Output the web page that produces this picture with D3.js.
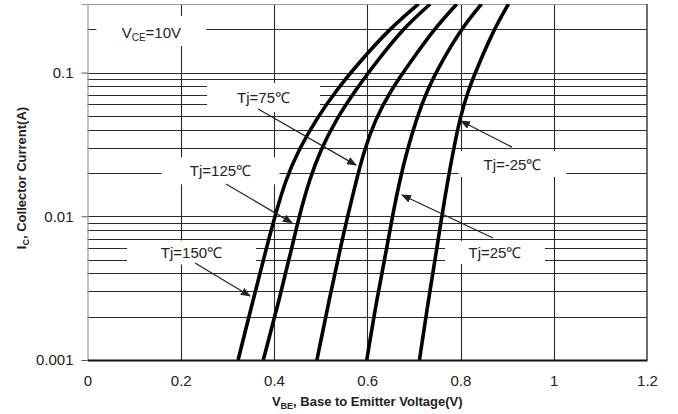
<!DOCTYPE html>
<html>
<head>
<meta charset="utf-8">
<script src="https://cdn.jsdelivr.net/npm/d3@7"></script>
<style>
  body { margin: 0; background: #fff; }
  text { font-family: "Liberation Sans", Arial, sans-serif; }
</style>
</head>
<body>
<div id="chart"></div>
<script>
// Ic vs Vbe at several junction temperatures (log current axis)

// collector current levels (A) where the curves were read
const currents = [0.3, 0.2, 0.12, 0.075, 0.047, 0.029, 0.018, 0.01, 0.0068, 0.0026, 0.001];
// base-emitter voltage (V) for each temperature at those currents
const vbe150 = [0.710, 0.647, 0.585, 0.533, 0.490, 0.453, 0.425, 0.402, 0.388, 0.355, 0.323];
const vbe125 = [0.735, 0.675, 0.621, 0.574, 0.533, 0.500, 0.476, 0.454, 0.442, 0.411, 0.377];
const vbe75  = [0.792, 0.743, 0.694, 0.650, 0.617, 0.594, 0.577, 0.558, 0.546, 0.518, 0.492];
const vbe25  = [0.845, 0.801, 0.760, 0.728, 0.705, 0.686, 0.670, 0.654, 0.645, 0.620, 0.599];
const vbeM25 = [0.903, 0.872, 0.842, 0.816, 0.798, 0.785, 0.773, 0.760, 0.752, 0.731, 0.712];

const xTicks = [0, 0.2, 0.4, 0.6, 0.8, 1, 1.2];
const yTicks = [0.001, 0.01, 0.1];
const tempLabels = ['Tj=150℃', 'Tj=125℃', 'Tj=75℃', 'Tj=25℃', 'Tj=-25℃'];

const series = [vbe150, vbe125, vbe75, vbe25, vbeM25].map((v, k) => ({
    name: tempLabels[k],
    pts: v.map((d, i) => ({ v: d, i: currents[i] }))
}));

// label placement in data units: text centre, arrow tail -> head
const notes = [
    { text: 'Tj=75℃',  at: [0.3775, 0.0671], w: 113, h: 29, from: [0.366, 0.0558], to: [0.576, 0.0227] },
    { text: 'Tj=125℃', at: [0.2853, 0.0207], w: 118, h: 27, from: [0.297, 0.0168], to: [0.4386, 0.0090] },
    { text: 'Tj=150℃', at: [0.2231, 0.0056], w: 129, h: 24, from: [0.2306, 0.00473], to: [0.3485, 0.00279] },
    { text: 'Tj=-25℃', at: [0.9115, 0.0231], w: 108, h: 26, from: [0.9105, 0.0303], to: [0.801, 0.046] },
    { text: 'Tj=25℃',  at: [0.874, 0.0056],  w: 100, h: 23, from: [0.8697, 0.00706], to: [0.6745, 0.01406] }
];

const W = 678, H = 414;
const plot = { left: 87.5, right: 647, top: 4, bottom: 360 };

const svg = d3.select('#chart').append('svg')
    .attr('width', W)
    .attr('height', H);

const x = d3.scaleLinear().domain([0, 1.2]).range([plot.left, plot.right]);
const y = d3.scaleLog().domain([0.001, 0.3]).range([plot.bottom, plot.top]);

const crisp = v => Math.round(v) + 0.5;

// grid
const grid = svg.append('g').attr('stroke', '#2a2a2a').attr('stroke-width', 1.1);
grid.selectAll('.hg')
    .data(y.ticks().filter(d => d > 0.0011 && d < 0.29))
    .enter().append('line')
    .attr('x1', plot.left).attr('x2', plot.right)
    .attr('y1', d => crisp(y(d))).attr('y2', d => crisp(y(d)));
grid.selectAll('.vg')
    .data(xTicks.slice(1, -1))
    .enter().append('line')
    .attr('x1', d => crisp(x(d))).attr('x2', d => crisp(x(d)))
    .attr('y1', plot.top).attr('y2', plot.bottom);

// frame
svg.append('line').attr('x1', plot.left).attr('x2', plot.right)
    .attr('y1', plot.top + 0.5).attr('y2', plot.top + 0.5)
    .attr('stroke', '#9a9a9a').attr('stroke-width', 1.2);
svg.append('line').attr('x1', plot.right).attr('x2', plot.right)
    .attr('y1', plot.top).attr('y2', plot.bottom)
    .attr('stroke', '#333').attr('stroke-width', 1.4);

// white boxes behind the labels
const vceAt = [0.137, 0.1915];
svg.append('rect')
    .attr('x', x(vceAt[0]) - 55).attr('y', y(vceAt[1]) - 16)
    .attr('width', 110).attr('height', 30)
    .attr('fill', '#fff');
svg.selectAll('.box')
    .data(notes)
    .enter().append('rect')
    .attr('x', d => x(d.at[0]) - d.w / 2)
    .attr('y', d => y(d.at[1]) - d.h / 2)
    .attr('width', d => d.w)
    .attr('height', d => d.h)
    .attr('fill', '#fff');

// curves
svg.append('clipPath').attr('id', 'clip')
    .append('rect')
    .attr('x', plot.left).attr('y', plot.top)
    .attr('width', plot.right - plot.left).attr('height', plot.bottom - plot.top);

const line = d3.line()
    .x(d => x(d.v))
    .y(d => y(d.i))
    .curve(d3.curveBasis);

svg.append('g').attr('clip-path', 'url(#clip)')
    .selectAll('path')
    .data(series)
    .enter().append('path')
    .attr('d', d => line(d.pts))
    .attr('fill', 'none')
    .attr('stroke', '#000')
    .attr('stroke-width', 3.6);

// axes
const yAxis = svg.append('g')
    .attr('transform', `translate(${plot.left},0)`)
    .call(d3.axisLeft(y).tickValues(yTicks).tickFormat(d => String(d)).tickSize(6).tickPadding(8));
yAxis.select('.domain').attr('stroke', '#9a9a9a').attr('stroke-width', 1.2);
yAxis.selectAll('.tick line').attr('stroke', '#555');
yAxis.selectAll('text')
    .attr('font-family', '"Liberation Sans", Arial, sans-serif')
    .attr('font-size', 15).attr('fill', '#222');

const xAxis = svg.append('g')
    .attr('transform', `translate(0,${plot.bottom})`)
    .call(d3.axisBottom(x).tickValues(xTicks).tickFormat(d => String(d)).tickSize(0).tickPadding(15));
xAxis.select('.domain').attr('stroke', '#111').attr('stroke-width', 1.8);
xAxis.selectAll('text')
    .attr('font-family', '"Liberation Sans", Arial, sans-serif')
    .attr('font-size', 15).attr('fill', '#222');

// axis titles
const xt = svg.append('text')
    .attr('x', (plot.left + plot.right) / 2)
    .attr('y', 406)
    .attr('text-anchor', 'middle')
    .attr('font-size', 13).attr('font-weight', 'bold').attr('fill', '#222');
xt.append('tspan').text('V');
xt.append('tspan').attr('font-size', 9).attr('dy', 3).text('BE');
xt.append('tspan').attr('dy', -3).text(', Base to Emitter Voltage(V)');

const yt = svg.append('text')
    .attr('transform', `translate(26,${(plot.top + plot.bottom) / 2 - 4}) rotate(-90)`)
    .attr('text-anchor', 'middle')
    .attr('font-size', 13).attr('font-weight', 'bold').attr('fill', '#222');
yt.append('tspan').text('I');
yt.append('tspan').attr('font-size', 9).attr('dy', 3).text('C');
yt.append('tspan').attr('dy', -3).text(', Collector Current(A)');

// VCE note
const vt = svg.append('text')
    .attr('x', x(vceAt[0])).attr('y', y(vceAt[1]) + 5.5)
    .attr('text-anchor', 'middle')
    .attr('font-size', 15).attr('fill', '#222');
vt.append('tspan').text('V');
vt.append('tspan').attr('font-size', 10).attr('dy', 3).text('CE');
vt.append('tspan').attr('dy', -3).text('=10V');

// arrows + temperature labels
svg.append('defs').append('marker')
    .attr('id', 'arrow')
    .attr('markerUnits', 'userSpaceOnUse')
    .attr('markerWidth', 10).attr('markerHeight', 8)
    .attr('refX', 9).attr('refY', 4)
    .attr('orient', 'auto')
    .append('path')
    .attr('d', 'M0,0 L10,4 L0,8 Z')
    .attr('fill', '#222');

svg.selectAll('.arrow')
    .data(notes)
    .enter().append('line')
    .attr('x1', d => x(d.from[0])).attr('y1', d => y(d.from[1]))
    .attr('x2', d => x(d.to[0])).attr('y2', d => y(d.to[1]))
    .attr('stroke', '#222').attr('stroke-width', 1.2)
    .attr('marker-end', 'url(#arrow)');

svg.selectAll('.note')
    .data(notes)
    .enter().append('text')
    .attr('x', d => x(d.at[0]))
    .attr('y', d => y(d.at[1]) + 5.5)
    .attr('text-anchor', 'middle')
    .attr('font-family', '"Open Sans", "Noto Sans", sans-serif')
    .attr('font-size', 15)
    .attr('fill', '#222')
    .text(d => d.text);
</script>
</body>
</html>
